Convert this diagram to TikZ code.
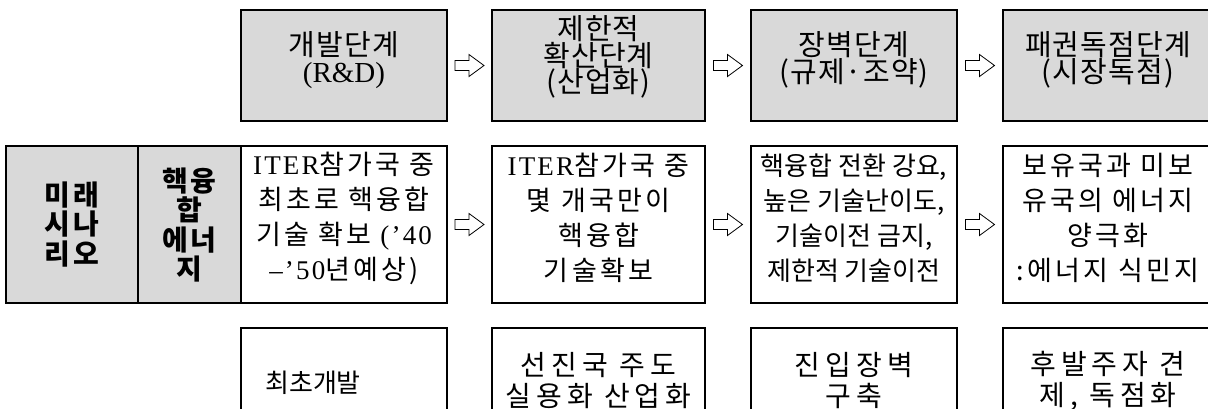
\documentclass[tikz,border=0pt]{standalone}
\usepackage{fontspec}
\setmainfont{Noto Sans CJK KR}
\newfontfamily\ktop{Noto Sans CJK KR}[LetterSpace=4]
\newfontfamily\kmid{Noto Sans CJK KR}[LetterSpace=12]
\newfontfamily\kbot{Noto Sans CJK KR}[LetterSpace=18]
\newfontfamily\kside{Noto Sans CJK KR}[LetterSpace=10]
\newfontfamily\kplain{Noto Sans CJK KR}
\newfontfamily\lat{Liberation Serif}
\newfontfamily\latw{Liberation Serif}[LetterSpace=8]
\usetikzlibrary{calc}
\definecolor{boxgray}{RGB}{217,217,217}
\tikzset{
  basebox/.style={draw=black, line width=1.1pt, inner sep=0pt},
  stagebox/.style={basebox, fill=boxgray, minimum height=111pt},
  descbox/.style={basebox, fill=white, minimum height=157pt},
  notebox/.style={basebox, fill=white, minimum height=112pt},
  sidebox/.style={basebox, fill=boxgray, minimum height=157pt},
  stagetext/.style={inner sep=0pt, align=center, font=\ktop\fontsize{29}{26.5}\selectfont},
  desctext/.style={inner sep=0pt, align=center, font=\kmid\fontsize{27}{35}\selectfont},
  condtext/.style={inner sep=0pt, align=center, font=\kplain\fontsize{26}{35}\selectfont},
  notetext/.style={inner sep=0pt, align=center, font=\kbot\fontsize{28}{31}\selectfont},
  firsttext/.style={inner sep=0pt, align=center, font=\kplain\fontsize{26}{31}\selectfont},
  sidetext/.style={inner sep=0pt, align=center, font=\kside\bfseries\fontsize{28}{29.5}\selectfont},
  flowarrow/.style={draw=black, line width=0.8pt, fill=white, line join=miter}
}
\newcommand{\blockarrow}[1]{%
  \draw[flowarrow] ($(#1)+(-14.5,-5)$) -- ++(14,0) -- ++(0,-6) -- ++(15,11) -- ++(-15,11) -- ++(0,-6) -- ++(-14,0) -- cycle;}
\begin{document}
\begin{tikzpicture}[x=1pt,y=-1pt]
\useasboundingbox (0,0) rectangle (1208,408);
\clip (0,0) rectangle (1208,408);
% top row
\node[stagebox, minimum width=206pt] (t1) at (344,65.5) {};
\node[stagebox, minimum width=213pt] (t2) at (598.5,65.5) {};
\node[stagebox, minimum width=206pt] (t3) at (854,65.5) {};
\node[stagebox, minimum width=210pt] (t4) at (1108,65.5) {};
\node[stagetext] (t1x) at (344,60) {개발단계\\{\lat (R\&D)}};
\node[stagetext] (t2x) at (598.5,57) {제한적\\확산단계\\(산업화)};
\node[stagetext] (t3x) at (854,60) {장벽단계\\(규제·조약)};
\node[stagetext] (t4x) at (1108,60) {패권독점단계\\(시장독점)};
% middle row
\node[sidebox, minimum width=132pt] (s1) at (72,224.5) {};
\node[sidebox, minimum width=103pt] (s2) at (189.5,224.5) {};
\node[sidetext] (s1x) at (72,224.5) {미래\\시나\\리오};
\node[sidetext] (s2x) at (189.5,225) {핵융\\합\\에너\\지};
\node[descbox, minimum width=206pt] (m1) at (344,224.5) {};
\node[descbox, minimum width=213pt] (m2) at (598.5,224.5) {};
\node[descbox, minimum width=206pt] (m3) at (854,224.5) {};
\node[descbox, minimum width=210pt] (m4) at (1108,224.5) {};
\node[desctext] (m1x) at (344,218) {{\latw ITER}참가국 중\\최초로 핵융합\\기술 확보 {\latw (’40}\\{\latw –’50}년예상)};
\node[desctext] (m2x) at (598.5,218) {{\latw ITER}참가국 중\\몇 개국만이\\핵융합\\기술확보};
\node[condtext] (m3x) at (854,218) {핵융합 전환 강요,\\높은 기술난이도,\\기술이전 금지,\\제한적 기술이전};
\node[desctext] (m4x) at (1108,218) {보유국과 미보\\유국의 에너지\\양극화\\:에너지 식민지};
% bottom row
\node[notebox, minimum width=206pt] (b1) at (344,384) {};
\node[notebox, minimum width=213pt] (b2) at (598.5,384) {};
\node[notebox, minimum width=206pt] (b3) at (854,384) {};
\node[notebox, minimum width=210pt] (b4) at (1108,384) {};
\node[firsttext] (b1x) at (313,383) {최초개발};
\node[notetext] (b2x) at (598.5,381) {선진국 주도\\실용화 산업화};
\node[notetext] (b3x) at (854,381) {진입장벽\\구축};
\node[notetext] (b4x) at (1108,381) {후발주자 견\\제, 독점화};
% arrows
\coordinate (a1) at ($(t1.east)!0.5!(t2.west)$);
\coordinate (a2) at ($(t2.east)!0.5!(t3.west)$);
\coordinate (a3) at ($(t3.east)!0.5!(t4.west)$);
\coordinate (a4) at ($(m1.east)!0.5!(m2.west)$);
\coordinate (a5) at ($(m2.east)!0.5!(m3.west)$);
\coordinate (a6) at ($(m3.east)!0.5!(m4.west)$);
\blockarrow{a1}\blockarrow{a2}\blockarrow{a3}
\blockarrow{a4}\blockarrow{a5}\blockarrow{a6}
\end{tikzpicture}
\end{document}
